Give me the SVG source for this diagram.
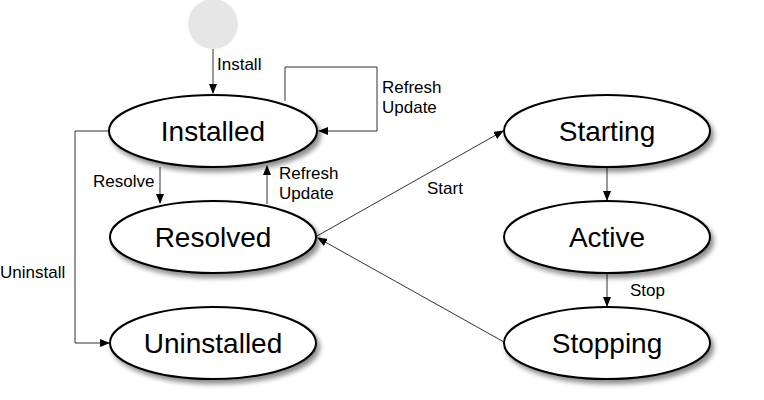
<svg xmlns="http://www.w3.org/2000/svg" width="764" height="400" viewBox="0 0 764 400">
<defs>
<filter id="sh" x="-20%" y="-30%" width="150%" height="170%">
<feDropShadow dx="3" dy="4" stdDeviation="2.5" flood-color="#000" flood-opacity="0.45"/>
</filter>
<marker id="ah" markerWidth="10" markerHeight="8" refX="9" refY="4" orient="auto" markerUnits="userSpaceOnUse">
<path d="M0,0 L10,4 L0,8 Z" fill="#000"/>
</marker>
<style>
.node ellipse{fill:#fff;stroke:#000;stroke-width:2;filter:url(#sh)}
.node text{font-family:"Liberation Sans",Arial,sans-serif;font-size:28px;fill:#000;text-anchor:middle}
.edge{fill:none;stroke:#333;stroke-width:1;marker-end:url(#ah)}
.lbl{font-family:"Liberation Sans",Arial,sans-serif;font-size:17px;fill:#000}
</style>
</defs>
<rect width="764" height="400" fill="#fff"/>
<g id="connectors">
<path class="edge" stroke="#666" d="M213,49 L213,93"/>
<path class="edge" d="M285,101 L285,67 L377,67 L377,131 L319,131"/>
<path class="edge" d="M160,167 L160,203"/>
<path class="edge" d="M267,204 L267,166"/>
<path class="edge" d="M109,131 L75,131 L75,343 L109,343"/>
<path class="edge" d="M317,236 L503,131"/>
<path class="edge" d="M504,342 L318,238"/>
<path class="edge" d="M607,167 L607,200"/>
<path class="edge" d="M607,273 L607,306"/>
<text class="lbl" x="217" y="70">Install</text>
<text class="lbl" x="382" y="93">Refresh</text>
<text class="lbl" x="382" y="113">Update</text>
<text class="lbl" x="93" y="187">Resolve</text>
<text class="lbl" x="279" y="179">Refresh</text>
<text class="lbl" x="279" y="199">Update</text>
<text class="lbl" x="0" y="278">Uninstall</text>
<text class="lbl" x="427" y="194">Start</text>
<text class="lbl" x="630" y="296">Stop</text>
</g>
<g id="initial"><circle cx="213" cy="24" r="25" fill="#e6e6e6"/></g>
<g id="installed" class="node"><ellipse cx="213" cy="131" rx="104" ry="36"/><text x="213" y="141">Installed</text></g>
<g id="resolved" class="node"><ellipse cx="213" cy="237" rx="103" ry="36"/><text x="213" y="247">Resolved</text></g>
<g id="uninstalled" class="node"><ellipse cx="213" cy="343" rx="103" ry="36"/><text x="213" y="353">Uninstalled</text></g>
<g id="starting" class="node"><ellipse cx="607" cy="131" rx="103" ry="36"/><text x="607" y="141">Starting</text></g>
<g id="active" class="node"><ellipse cx="607" cy="237" rx="103" ry="36"/><text x="607" y="247">Active</text></g>
<g id="stopping" class="node"><ellipse cx="607" cy="343" rx="103" ry="36"/><text x="607" y="353">Stopping</text></g>
</svg>
